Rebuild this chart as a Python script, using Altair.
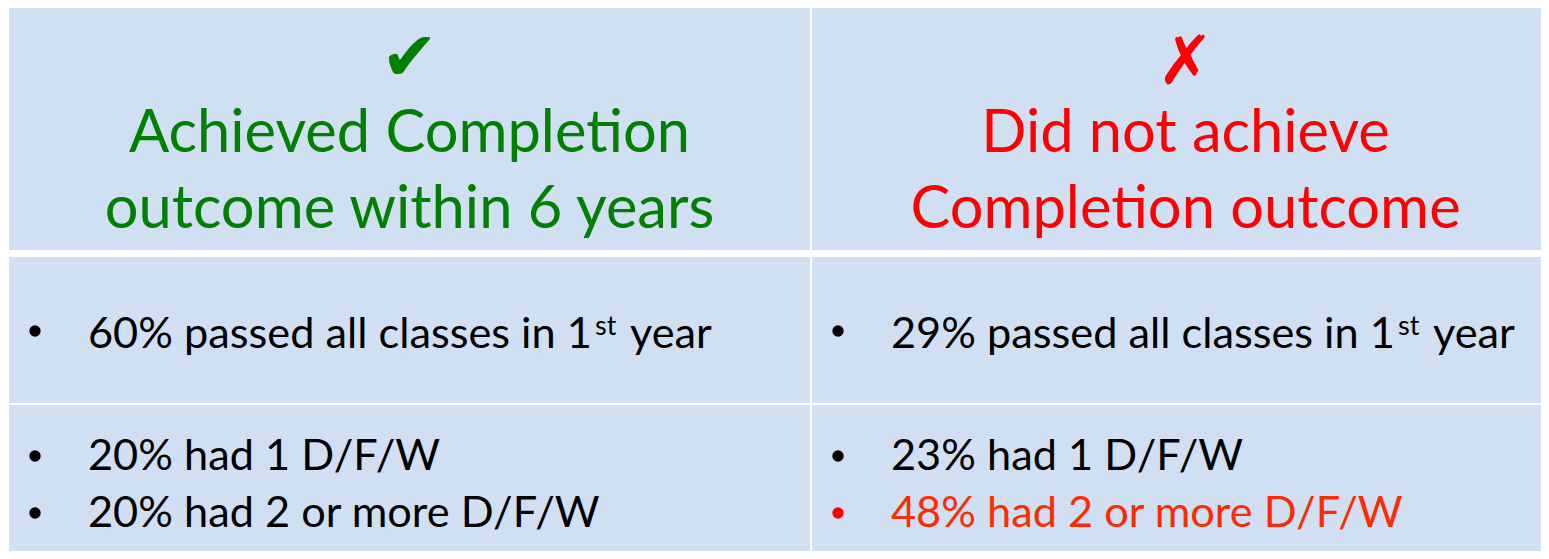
import altair as alt
import pandas as pd

FONT = "Lato"
BG = "#D0E0F2"
GREEN = "#008000"
RED = "#FF0000"
RED_TEXT = "#FF2A00"

# cells: column, row
col_left = [9, 812]
col_right = [810, 1549]
row_top = [6, 257, 405]
row_bottom = [250, 403, 559]

# header text
head_text = ["\u2714", "Achieved Completion", "outcome within 6 years",
             "\u2717", "Did not achieve", "Completion outcome"]
head_col = [0, 0, 0, 1, 1, 1]
head_dx = [0, 0, 0, 5, 5, 5]
head_base = [80, 152, 228, 84, 152, 228]
head_kind = ["icon", "line", "line", "icon", "line", "line"]
head_color = [GREEN, GREEN, GREEN, RED, RED, RED]

# body text
body_text = ["60% passed all classes in 1", "year",
             "29% passed all classes in 1", "year",
             "20% had 1 D/F/W", "20% had 2 or more D/F/W",
             "23% had 1 D/F/W", "48% had 2 or more D/F/W"]
body_x = [88, 630, 891, 1433, 88, 88, 891, 891]
body_base = [348, 348, 348, 348, 470, 527, 470, 527]
body_color = ["black", "black", "black", "black", "black", "black", "black", RED_TEXT]

sup_text = ["st", "st"]
sup_x = [595, 1398]
sup_base = [335, 335]

bullet_x = [35, 838, 35, 35, 838, 838]
bullet_y = [331, 331, 456, 513, 456, 513]
bullet_color = ["black", "black", "black", "black", "black", RED]

cells = pd.DataFrame([
    {"x": col_left[c], "x2": col_right[c], "y": row_top[r], "y2": row_bottom[r]}
    for r in range(3) for c in range(2)
])
centers = [(col_left[c] + col_right[c]) / 2 for c in range(2)]
heads = pd.DataFrame({
    "t": head_text,
    "x": [centers[c] + d for c, d in zip(head_col, head_dx)],
    "y": head_base,
    "kind": head_kind,
    "color": head_color,
})
body = pd.DataFrame({"t": body_text, "x": body_x, "y": body_base, "color": body_color})
sups = pd.DataFrame({"t": sup_text, "x": sup_x, "y": sup_base})
bullets = pd.DataFrame({"x": bullet_x, "y": bullet_y, "color": bullet_color})

xs = alt.Scale(domain=[8, 1541], nice=False, zero=False)
ys = alt.Scale(domain=[8, 551], nice=False, zero=False, reverse=True)
X = lambda f="x": alt.X(f"{f}:Q", scale=xs, axis=None)
Y = lambda f="y": alt.Y(f"{f}:Q", scale=ys, axis=None)

rects = alt.Chart(cells).mark_rect(color=BG, clip=True).encode(
    x=X(), x2="x2:Q", y=Y(), y2="y2:Q")

icons = alt.Chart(heads).transform_filter("datum.kind == 'icon'").mark_text(
    font="DejaVu Sans", fontSize=68, baseline="alphabetic", align="center"
).encode(x=X(), y=Y(), text="t:N", color=alt.Color("color:N", scale=None))

lines = alt.Chart(heads).transform_filter("datum.kind == 'line'").mark_text(
    font=FONT, fontSize=59.6, baseline="alphabetic", align="center"
).encode(x=X(), y=Y(), text="t:N", color=alt.Color("color:N", scale=None))

btext = alt.Chart(body).mark_text(
    font=FONT, fontSize=43.3, baseline="alphabetic", align="left"
).encode(x=X(), y=Y(), text="t:N", color=alt.Color("color:N", scale=None))

stext = alt.Chart(sups).mark_text(
    font=FONT, fontSize=27, baseline="alphabetic", align="left", color="black"
).encode(x=X(), y=Y(), text="t:N")

bdots = alt.Chart(bullets).mark_circle(size=130, opacity=1).encode(
    x=X(), y=Y(), color=alt.Color("color:N", scale=None))

chart = alt.layer(rects, icons, lines, btext, stext, bdots).properties(
    width=1533, height=543, padding=0, autosize=alt.AutoSizeParams(type="none"),
    background="white",
).configure_view(stroke=None)

chart.save("out.html", embed_options={"renderer": "svg", "actions": False})
